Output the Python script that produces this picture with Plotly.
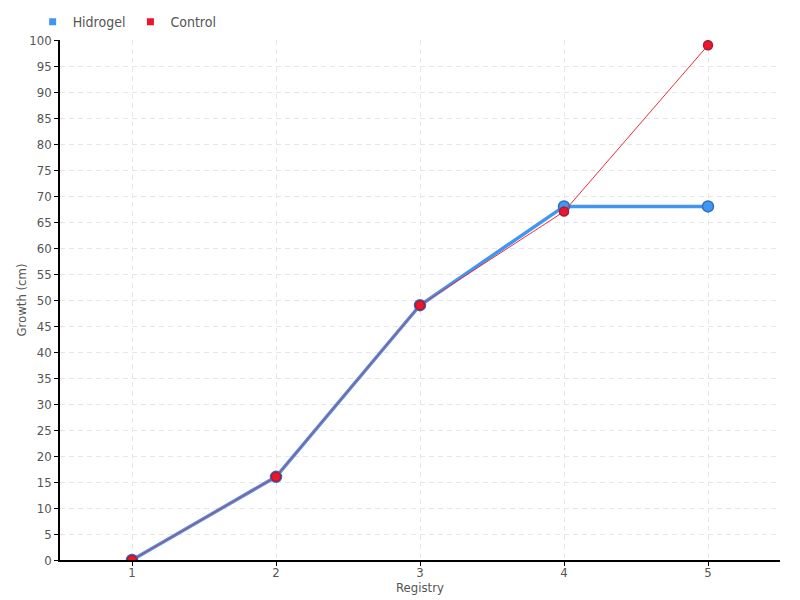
import plotly.graph_objects as go

registry = [1, 2, 3, 4, 5]
hidrogel = [0, 16, 49, 68, 68]
control = [0, 16, 49, 67, 99]
y_ticks = list(range(0, 101, 5))

FONT = "DejaVu Sans Condensed, Liberation Sans Narrow, sans-serif"
BLUE = "#4196f0"
RED = "#f0142a"

fig = go.Figure()
fig.add_trace(go.Scatter(
    x=registry, y=hidrogel, name="Hidrogel", mode="lines+markers", showlegend=False,
    line=dict(color=BLUE, width=3.5),
    marker=dict(size=11, color=BLUE, line=dict(color="#2f6fbf", width=1.5)),
))
fig.add_trace(go.Scatter(
    x=registry, y=control, name="Control", mode="lines+markers", showlegend=False,
    line=dict(color="#f0283c", width=1),
    marker=dict(size=9, color=RED, line=dict(color="#a0203a", width=1.5)),
))
# legend entries with square swatches
for name, col in [("Hidrogel", BLUE), ("Control", RED)]:
    fig.add_trace(go.Scatter(
        x=[None], y=[None], name=name, mode="markers",
        marker=dict(symbol="square", size=7, color=col),
    ))

fig.update_layout(
    width=800, height=600,
    margin=dict(l=60, r=20, t=40, b=40, autoexpand=False),
    paper_bgcolor="white", plot_bgcolor="white",
    font=dict(family=FONT, size=13, color="#555"),
    showlegend=True,
    legend=dict(orientation="h", x=-0.038, xanchor="left", y=1.065, yanchor="top",
                font=dict(size=14, color="#555"),
                itemwidth=30, traceorder="normal", tracegroupgap=0,
                bgcolor="rgba(0,0,0,0)"),
    xaxis=dict(
        range=[0.5, 5.5], tickvals=registry, ticktext=[str(v) for v in registry],
        showline=True, linecolor="black", linewidth=1.5,
        ticks="outside", ticklen=4, tickcolor="black", ticklabelstandoff=-4,
        showgrid=True, gridcolor="#e6e6e6", griddash="5px,4px", zeroline=False,
        title=dict(text="Registry", standoff=0, font=dict(size=13, color="#555")),
    ),
    yaxis=dict(
        range=[0, 100], tickvals=y_ticks,
        showline=True, linecolor="black", linewidth=1.5,
        ticks="outside", ticklen=4, tickcolor="black",
        showgrid=True, gridcolor="#e6e6e6", griddash="5px,4px", zeroline=False,
        title=dict(text="Growth (cm)", standoff=0, font=dict(size=13, color="#555")),
    ),
)

fig.write_html("out.html", config={"displayModeBar": False},
               post_script="document.body.style.margin='0';")
